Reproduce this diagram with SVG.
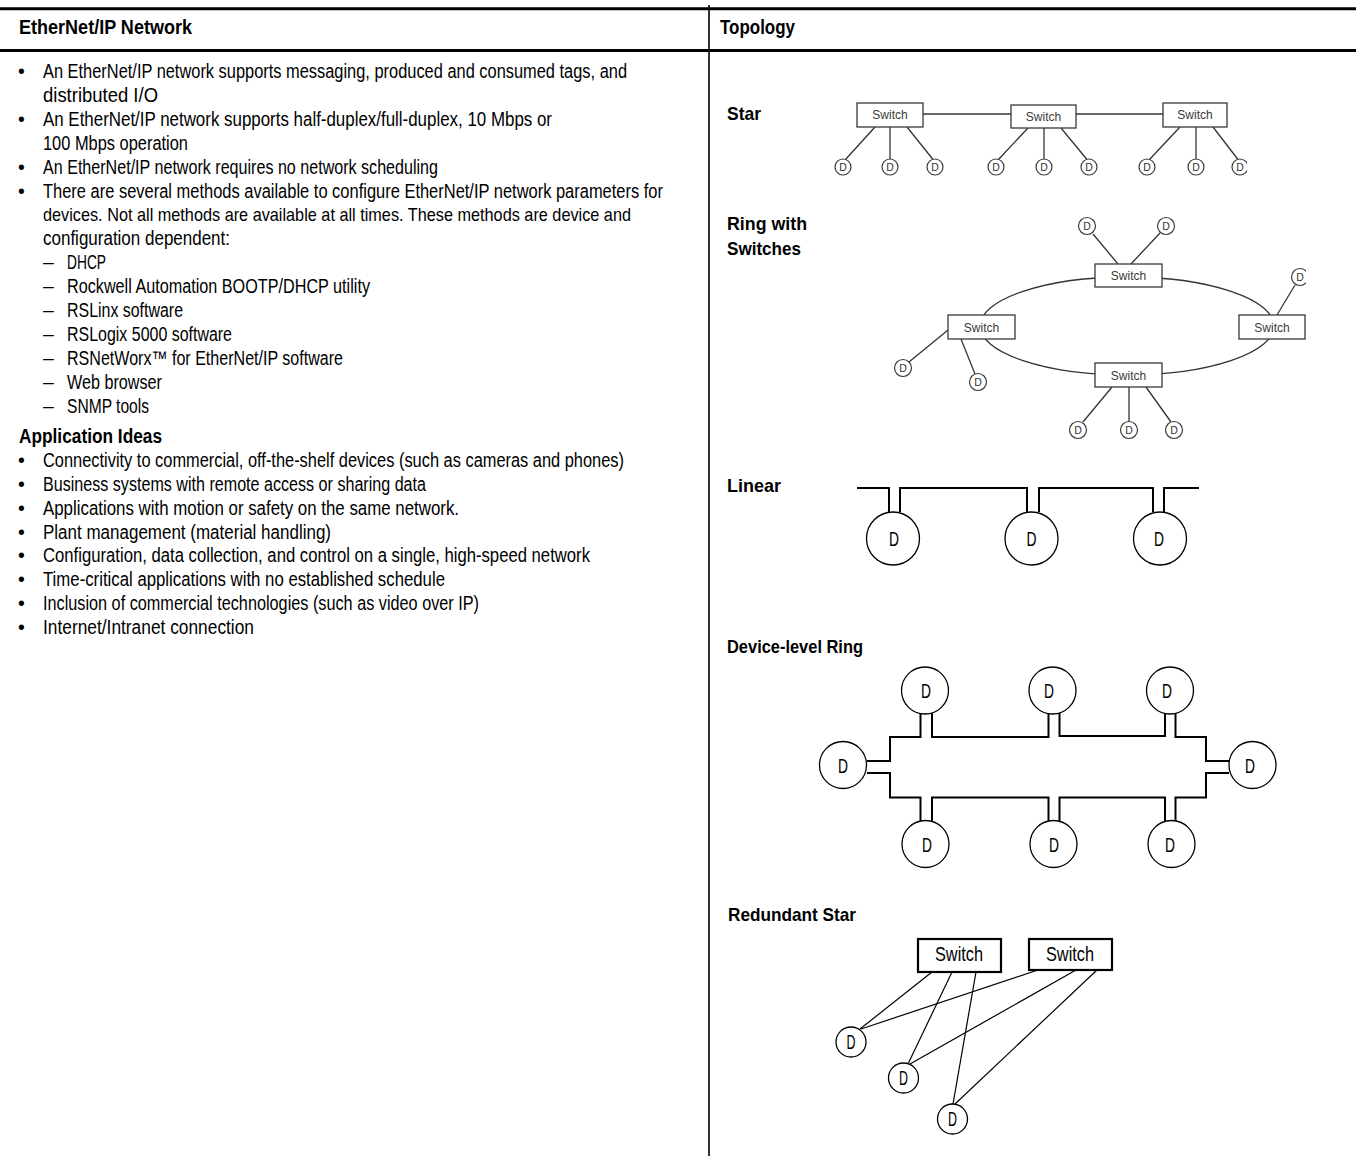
<svg xmlns="http://www.w3.org/2000/svg" width="1356" height="1156" viewBox="0 0 1356 1156">
<defs>
<style>
.t{font-family:"Liberation Sans",Arial,sans-serif;font-size:19.5px;fill:#000}
.b{font-weight:bold}
.sm{font-size:18.2px}
.hd{font-family:"Liberation Sans",Arial,sans-serif;font-size:19.5px;font-weight:bold;fill:#000}
.lb{font-family:"Liberation Sans",Arial,sans-serif;font-size:18.5px;font-weight:bold;fill:#000}
.rule{stroke:#000;stroke-width:3}
.div{stroke:#000;stroke-width:1.6}
.gbox{fill:#fff;stroke:#3a3a3a;stroke-width:1.3}
.gtxt{font-family:"Liberation Sans",Arial,sans-serif;font-size:12px;fill:#3a3a3a;text-anchor:middle}
.gdev{fill:#fff;stroke:#3a3a3a;stroke-width:1.2}
.gd{font-family:"Liberation Sans",Arial,sans-serif;font-size:10.5px;fill:#333;text-anchor:middle}
.gl{stroke:#333;stroke-width:1.3;fill:none}
.bl{stroke:#000;stroke-width:2;fill:none}
.bc{fill:#fff;stroke:#000;stroke-width:1.3}
.bd{font-family:"Liberation Sans",Arial,sans-serif;font-size:21px;fill:#000;text-anchor:middle}
.tl{stroke:#000;stroke-width:1.2;fill:none}
.sbox{fill:#fff;stroke:#000;stroke-width:2.2}
</style>
<clipPath id="clipStar"><rect x="700" y="60" width="547" height="130"/></clipPath>
<clipPath id="clipRing"><rect x="700" y="200" width="606" height="260"/></clipPath>
</defs>
<rect x="0" y="0" width="1356" height="1156" fill="#fff"/>

<!-- table rules -->
<g id="table">
<line class="rule" x1="0" y1="8.7" x2="1356" y2="8.7"/>
<line class="rule" x1="0" y1="50.5" x2="1356" y2="50.5"/>
<line class="div" x1="709" y1="5" x2="709" y2="1156"/>
<text class="hd" x="19" y="34" textLength="173" lengthAdjust="spacingAndGlyphs">EtherNet/IP Network</text>
<text class="hd" x="720" y="34" textLength="75" lengthAdjust="spacingAndGlyphs">Topology</text>
</g>

<!-- left column text -->
<g id="left-text">
<text class="t" x="18" y="78">•</text>
<text class="t" x="43" y="78" textLength="584" lengthAdjust="spacingAndGlyphs">An EtherNet/IP network supports messaging, produced and consumed tags, and</text>
<text class="t" x="43" y="102" textLength="115" lengthAdjust="spacingAndGlyphs">distributed I/O</text>
<text class="t" x="18" y="126">•</text>
<text class="t" x="43" y="126" textLength="509" lengthAdjust="spacingAndGlyphs">An EtherNet/IP network supports half-duplex/full-duplex, 10 Mbps or</text>
<text class="t" x="43" y="150" textLength="145" lengthAdjust="spacingAndGlyphs">100 Mbps operation</text>
<text class="t" x="18" y="174">•</text>
<text class="t" x="43" y="174" textLength="395" lengthAdjust="spacingAndGlyphs">An EtherNet/IP network requires no network scheduling</text>
<text class="t" x="18" y="197.5">•</text>
<text class="t" x="43" y="197.5" textLength="620" lengthAdjust="spacingAndGlyphs">There are several methods available to configure EtherNet/IP network parameters for</text>
<text class="t sm" x="43" y="221" textLength="588" lengthAdjust="spacingAndGlyphs">devices. Not all methods are available at all times. These methods are device and</text>
<text class="t" x="43" y="245" textLength="187" lengthAdjust="spacingAndGlyphs">configuration dependent:</text>
<text class="t" x="43" y="269">–</text>
<text class="t" x="67" y="269" textLength="39" lengthAdjust="spacingAndGlyphs">DHCP</text>
<text class="t" x="43" y="293">–</text>
<text class="t" x="67" y="293" textLength="303" lengthAdjust="spacingAndGlyphs">Rockwell Automation BOOTP/DHCP utility</text>
<text class="t" x="43" y="317">–</text>
<text class="t" x="67" y="317" textLength="116" lengthAdjust="spacingAndGlyphs">RSLinx software</text>
<text class="t" x="43" y="341">–</text>
<text class="t" x="67" y="341" textLength="165" lengthAdjust="spacingAndGlyphs">RSLogix 5000 software</text>
<text class="t" x="43" y="364.5">–</text>
<text class="t" x="67" y="364.5" textLength="276" lengthAdjust="spacingAndGlyphs">RSNetWorx™ for EtherNet/IP software</text>
<text class="t" x="43" y="388.5">–</text>
<text class="t" x="67" y="388.5" textLength="95" lengthAdjust="spacingAndGlyphs">Web browser</text>
<text class="t" x="43" y="412.5">–</text>
<text class="t" x="67" y="412.5" textLength="82" lengthAdjust="spacingAndGlyphs">SNMP tools</text>
<text class="t b" x="19" y="443" textLength="143" lengthAdjust="spacingAndGlyphs">Application Ideas</text>
<text class="t" x="18" y="467">•</text>
<text class="t" x="43" y="467" textLength="581" lengthAdjust="spacingAndGlyphs">Connectivity to commercial, off-the-shelf devices (such as cameras and phones)</text>
<text class="t" x="18" y="490.5">•</text>
<text class="t" x="43" y="490.5" textLength="383" lengthAdjust="spacingAndGlyphs">Business systems with remote access or sharing data</text>
<text class="t" x="18" y="514.5">•</text>
<text class="t" x="43" y="514.5" textLength="416" lengthAdjust="spacingAndGlyphs">Applications with motion or safety on the same network.</text>
<text class="t" x="18" y="538.5">•</text>
<text class="t" x="43" y="538.5" textLength="288" lengthAdjust="spacingAndGlyphs">Plant management (material handling)</text>
<text class="t" x="18" y="562">•</text>
<text class="t" x="43" y="562" textLength="547" lengthAdjust="spacingAndGlyphs">Configuration, data collection, and control on a single, high-speed network</text>
<text class="t" x="18" y="586">•</text>
<text class="t" x="43" y="586" textLength="402" lengthAdjust="spacingAndGlyphs">Time-critical applications with no established schedule</text>
<text class="t" x="18" y="610">•</text>
<text class="t" x="43" y="610" textLength="436" lengthAdjust="spacingAndGlyphs">Inclusion of commercial technologies (such as video over IP)</text>
<text class="t" x="18" y="634">•</text>
<text class="t" x="43" y="634" textLength="211" lengthAdjust="spacingAndGlyphs">Internet/Intranet connection</text>
</g>

<!-- section labels -->
<g id="labels">
<text class="lb" x="727" y="120" textLength="34" lengthAdjust="spacingAndGlyphs">Star</text>
<text class="lb" x="727" y="230" textLength="80" lengthAdjust="spacingAndGlyphs">Ring with</text>
<text class="lb" x="727" y="255" textLength="74" lengthAdjust="spacingAndGlyphs">Switches</text>
<text class="lb" x="727" y="492" textLength="54" lengthAdjust="spacingAndGlyphs">Linear</text>
<text class="lb" x="727" y="653" textLength="136" lengthAdjust="spacingAndGlyphs">Device-level Ring</text>
<text class="lb" x="728" y="921" textLength="128" lengthAdjust="spacingAndGlyphs">Redundant Star</text>
</g>

<!-- connectors -->
<g id="connectors">
<!-- Star -->
<g clip-path="url(#clipStar)">
<line class="gl" x1="923" y1="114" x2="1011" y2="114"/>
<line class="gl" x1="1076" y1="114" x2="1163" y2="114"/>
<line class="gl" x1="875" y1="127" x2="845" y2="160"/>
<line class="gl" x1="890" y1="127" x2="890" y2="159"/>
<line class="gl" x1="907" y1="127" x2="933" y2="159.5"/>
<line class="gl" x1="1028" y1="128" x2="998" y2="160"/>
<line class="gl" x1="1044" y1="128" x2="1044" y2="159"/>
<line class="gl" x1="1061" y1="128" x2="1087" y2="159.5"/>
<line class="gl" x1="1180" y1="127" x2="1149" y2="160"/>
<line class="gl" x1="1196" y1="127" x2="1196" y2="159"/>
<line class="gl" x1="1213" y1="127" x2="1238" y2="159.5"/>
</g>
<!-- Ring with switches -->
<g clip-path="url(#clipRing)">
<ellipse class="gl" cx="1127" cy="326" rx="147" ry="49"/>
<line class="gl" x1="1093" y1="234" x2="1118" y2="264"/>
<line class="gl" x1="1160" y1="233" x2="1131" y2="264"/>
<line class="gl" x1="1277" y1="315" x2="1295" y2="285"/>
<line class="gl" x1="948" y1="330" x2="909" y2="362"/>
<line class="gl" x1="961" y1="339" x2="975" y2="374"/>
<line class="gl" x1="1112" y1="387" x2="1083" y2="422"/>
<line class="gl" x1="1129" y1="387" x2="1129" y2="421.5"/>
<line class="gl" x1="1146" y1="387" x2="1171" y2="422"/>
</g>
<!-- Linear -->
<path class="bl" d="M857 488H889V512M900 512V488H1027V512M1039 512V488H1153V512M1164 512V488H1199"/>
<!-- Device-level Ring -->
<path class="bl" d="M867 761H890V737H920.5V713M932 713V737H1048.5V713M1059.5 713V736H1165V713M1175.5 713V737H1206V761H1229"/>
<path class="bl" d="M867 773H890V797.5H920.5V821M932 821V797.5H1048.5V821M1059.5 821V797.5H1165V821M1175.5 821V797.5H1206V773H1229"/>
<!-- Redundant Star -->
<line class="tl" x1="932" y1="972" x2="860" y2="1029"/>
<line class="tl" x1="952" y1="972" x2="908" y2="1064"/>
<line class="tl" x1="976" y1="972" x2="953" y2="1104"/>
<line class="tl" x1="1038" y1="970" x2="861" y2="1029"/>
<line class="tl" x1="1076" y1="970" x2="910" y2="1064"/>
<line class="tl" x1="1097" y1="970" x2="955" y2="1104"/>
</g>

<!-- Star nodes -->
<g id="star-switch-1"><rect class="gbox" x="857" y="103" width="66" height="24"/><text class="gtxt" x="890" y="119">Switch</text></g>
<g id="star-switch-2"><rect class="gbox" x="1011" y="105" width="65" height="23"/><text class="gtxt" x="1043.5" y="120.5">Switch</text></g>
<g id="star-switch-3"><rect class="gbox" x="1163" y="103" width="64" height="24"/><text class="gtxt" x="1195" y="119">Switch</text></g>
<g id="star-d1"><circle class="gdev" cx="843" cy="167" r="8"/><text class="gd" x="843" y="171">D</text></g>
<g id="star-d2"><circle class="gdev" cx="890" cy="167" r="8"/><text class="gd" x="890" y="171">D</text></g>
<g id="star-d3"><circle class="gdev" cx="935" cy="167" r="8"/><text class="gd" x="935" y="171">D</text></g>
<g id="star-d4"><circle class="gdev" cx="996" cy="167" r="8"/><text class="gd" x="996" y="171">D</text></g>
<g id="star-d5"><circle class="gdev" cx="1044" cy="167" r="8"/><text class="gd" x="1044" y="171">D</text></g>
<g id="star-d6"><circle class="gdev" cx="1089" cy="167" r="8"/><text class="gd" x="1089" y="171">D</text></g>
<g id="star-d7"><circle class="gdev" cx="1147" cy="167" r="8"/><text class="gd" x="1147" y="171">D</text></g>
<g id="star-d8"><circle class="gdev" cx="1196" cy="167" r="8"/><text class="gd" x="1196" y="171">D</text></g>
<g id="star-d9" clip-path="url(#clipStar)"><circle class="gdev" cx="1240" cy="167" r="8"/><text class="gd" x="1240" y="171">D</text></g>

<!-- Ring with switches nodes -->
<g id="ring-switch-top"><rect class="gbox" x="1095" y="264" width="67" height="23"/><text class="gtxt" x="1128.5" y="280">Switch</text></g>
<g id="ring-switch-left"><rect class="gbox" x="948" y="315" width="67" height="24"/><text class="gtxt" x="981.5" y="331.5">Switch</text></g>
<g id="ring-switch-right"><rect class="gbox" x="1239" y="315" width="66" height="24"/><text class="gtxt" x="1272" y="331.5">Switch</text></g>
<g id="ring-switch-bottom"><rect class="gbox" x="1095" y="363" width="67" height="24"/><text class="gtxt" x="1128.5" y="379.5">Switch</text></g>
<g id="ring-d1"><circle class="gdev" cx="1087" cy="226" r="8.5"/><text class="gd" x="1087" y="230">D</text></g>
<g id="ring-d2"><circle class="gdev" cx="1166" cy="226" r="8.5"/><text class="gd" x="1166" y="230">D</text></g>
<g id="ring-d3" clip-path="url(#clipRing)"><circle class="gdev" cx="1300" cy="277" r="8.5"/><text class="gd" x="1300" y="281">D</text></g>
<g id="ring-d4"><circle class="gdev" cx="903" cy="368" r="8.5"/><text class="gd" x="903" y="372">D</text></g>
<g id="ring-d5"><circle class="gdev" cx="978" cy="382" r="8.5"/><text class="gd" x="978" y="386">D</text></g>
<g id="ring-d6"><circle class="gdev" cx="1078" cy="430" r="8.5"/><text class="gd" x="1078" y="434">D</text></g>
<g id="ring-d7"><circle class="gdev" cx="1129" cy="430" r="8.5"/><text class="gd" x="1129" y="434">D</text></g>
<g id="ring-d8"><circle class="gdev" cx="1174" cy="430" r="8.5"/><text class="gd" x="1174" y="434">D</text></g>

<!-- Linear nodes -->
<g id="lin-d1"><circle class="bc" cx="893" cy="538.5" r="26.5"/><text class="bd" x="894" y="545.5" textLength="10" lengthAdjust="spacingAndGlyphs">D</text></g>
<g id="lin-d2"><circle class="bc" cx="1031.5" cy="538.5" r="26.5"/><text class="bd" x="1031.5" y="545.5" textLength="10" lengthAdjust="spacingAndGlyphs">D</text></g>
<g id="lin-d3"><circle class="bc" cx="1160" cy="538.5" r="26.5"/><text class="bd" x="1159" y="545.5" textLength="10" lengthAdjust="spacingAndGlyphs">D</text></g>

<!-- Device-level Ring nodes -->
<g id="dlr-t1"><circle class="bc" cx="925" cy="690.5" r="23.5"/><text class="bd" x="926" y="698" textLength="10" lengthAdjust="spacingAndGlyphs">D</text></g>
<g id="dlr-t2"><circle class="bc" cx="1052.5" cy="690.5" r="23.5"/><text class="bd" x="1049" y="698" textLength="10" lengthAdjust="spacingAndGlyphs">D</text></g>
<g id="dlr-t3"><circle class="bc" cx="1170" cy="690.5" r="23.5"/><text class="bd" x="1167" y="698" textLength="10" lengthAdjust="spacingAndGlyphs">D</text></g>
<g id="dlr-l"><circle class="bc" cx="843" cy="765" r="23.5"/><text class="bd" x="843" y="772.5" textLength="10" lengthAdjust="spacingAndGlyphs">D</text></g>
<g id="dlr-r"><circle class="bc" cx="1252.5" cy="765" r="23.5"/><text class="bd" x="1250" y="772.5" textLength="10" lengthAdjust="spacingAndGlyphs">D</text></g>
<g id="dlr-b1"><circle class="bc" cx="925.5" cy="844" r="23.5"/><text class="bd" x="927" y="851.5" textLength="10" lengthAdjust="spacingAndGlyphs">D</text></g>
<g id="dlr-b2"><circle class="bc" cx="1053.5" cy="844" r="23.5"/><text class="bd" x="1054" y="851.5" textLength="10" lengthAdjust="spacingAndGlyphs">D</text></g>
<g id="dlr-b3"><circle class="bc" cx="1171.5" cy="844" r="23.5"/><text class="bd" x="1170" y="851.5" textLength="10" lengthAdjust="spacingAndGlyphs">D</text></g>

<!-- Redundant Star nodes -->
<g id="rs-switch-1"><rect class="sbox" x="918" y="939" width="83" height="33"/><text class="bd" x="959" y="961" textLength="48" lengthAdjust="spacingAndGlyphs">Switch</text></g>
<g id="rs-switch-2"><rect class="sbox" x="1029" y="939" width="83" height="31"/><text class="bd" x="1070" y="961" textLength="48" lengthAdjust="spacingAndGlyphs">Switch</text></g>
<g id="rs-d1"><circle class="bc" cx="851" cy="1042" r="15"/><text class="bd" x="851" y="1049" textLength="9" lengthAdjust="spacingAndGlyphs">D</text></g>
<g id="rs-d2"><circle class="bc" cx="903.5" cy="1078" r="15"/><text class="bd" x="903.5" y="1085" textLength="9" lengthAdjust="spacingAndGlyphs">D</text></g>
<g id="rs-d3"><circle class="bc" cx="952.5" cy="1119" r="15"/><text class="bd" x="952.5" y="1126" textLength="9" lengthAdjust="spacingAndGlyphs">D</text></g>
</svg>
